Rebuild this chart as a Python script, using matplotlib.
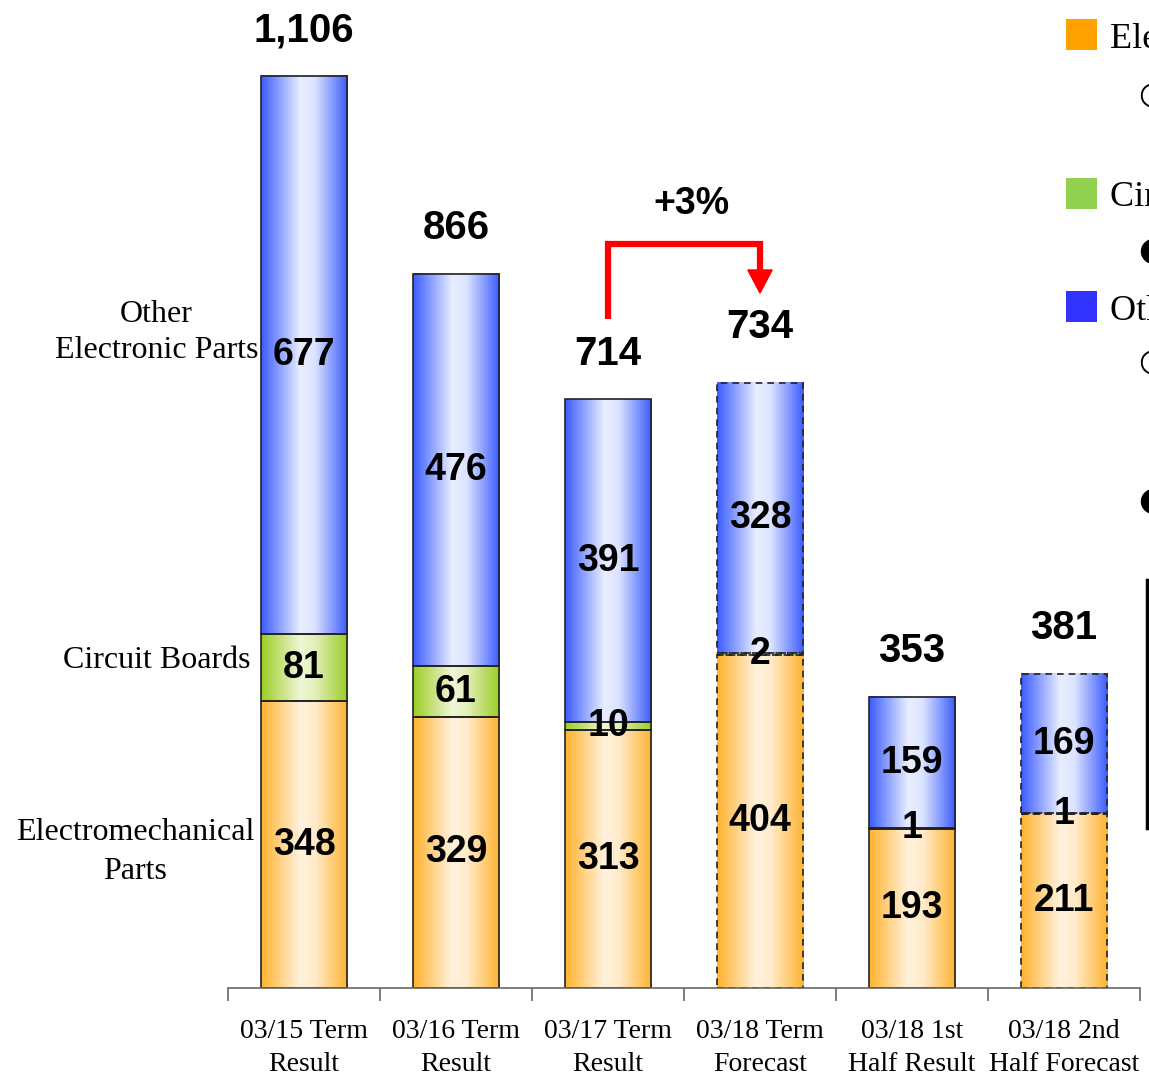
import numpy as np
import matplotlib.pyplot as plt
from matplotlib.colors import LinearSegmentedColormap
from matplotlib.patches import Rectangle, Polygon
from matplotlib.lines import Line2D

categories = ["03/15 Term\nResult", "03/16 Term\nResult", "03/17 Term\nResult",
              "03/18 Term\nForecast", "03/18 1st\nHalf Result", "03/18 2nd\nHalf Forecast"]
electromech = [348, 329, 313, 404, 193, 211]
circuit = [81, 61, 10, 2, 1, 1]
other = [677, 476, 391, 328, 159, 169]
totals = [1106, 866, 714, 734, 353, 381]
forecast = [False, False, False, True, False, True]
growth_label = "+3%"

series_names = ["Electromechanical Parts", "Circuit Boards", "Other Electronic Parts"]
series_colors = ["#FFA200", "#92D050", "#3333FF"]

# horizontal gradients: saturated at the edges, pale in the middle
grad_maps = [
    LinearSegmentedColormap.from_list("orange", [(0, "#FFB22E"), (0.45, "#FFF2DC"), (0.62, "#FFEBCB"), (1, "#FFB22E")]),
    LinearSegmentedColormap.from_list("green", [(0, "#9ACD22"), (0.45, "#F0F6D6"), (0.62, "#E3EFBC"), (1, "#9ACD22")]),
    LinearSegmentedColormap.from_list("blue", [(0, "#3A5BFF"), (0.45, "#E8EEFF"), (0.62, "#DCE4FF"), (1, "#3A5BFF")]),
]

W, H = 1149, 1076
fig = plt.figure(figsize=(W / 100, H / 100), dpi=100)
ax = fig.add_axes([228 / W, 88 / H, 912 / W, 981 / H])

x = np.arange(len(categories))
width = 0.566
grad = np.linspace(0, 1, 256).reshape(1, -1)
num_font = dict(family="Liberation Sans", weight="bold")

for i in x:
    ls = (0, (4, 3)) if forecast[i] else "solid"
    bottom = 0
    for s, vals in enumerate([electromech, circuit, other]):
        v = vals[i]
        ax.imshow(grad, cmap=grad_maps[s], aspect="auto", zorder=1,
                  extent=(i - width / 2, i + width / 2, bottom, bottom + v))
        ax.bar(i, v, width, bottom=bottom, fill=False, edgecolor="#222222",
               linewidth=1.2, linestyle=ls, zorder=2)
        ax.text(i, bottom + v / 2, f"{v:,}", ha="center", va="center",
                fontsize=27, zorder=5, **num_font)
        bottom += v
    lift = 40 if i == 3 else 33
    ax.annotate(f"{totals[i]:,}", (i, totals[i]), xytext=(0, lift), textcoords="offset points",
                ha="center", va="center", fontsize=29, **num_font)

# growth arrow between 03/17 and 03/18 term
top = max(totals[2], totals[3]) + 169
ax.plot([2, 2, 3, 3], [totals[2] + 97, top, top, totals[3] + 130], color="red",
        linewidth=4.5, solid_joinstyle="miter", solid_capstyle="butt", zorder=4)
ax.add_patch(Polygon([(2.92, totals[3] + 137), (3.08, totals[3] + 137), (3, totals[3] + 109)],
                     closed=True, color="red", zorder=4))
ax.text(2.55, top + 48, growth_label, ha="center", va="center", fontsize=27, **num_font)

ax.set_xlim(-0.5, len(categories) - 0.5)
ax.set_ylim(0, 1190)

for s in ["left", "top", "right"]:
    ax.spines[s].set_visible(False)
ax.spines["bottom"].set_color("#666666")
ax.spines["bottom"].set_linewidth(1.2)
ax.set_yticks([])
ax.set_xticks(x)
ax.set_xticklabels(categories, family="Liberation Serif", fontsize=20, linespacing=1.45)
ax.tick_params(axis="x", which="major", length=0, pad=22)
ax.set_xticks(np.arange(-0.5, len(categories)), minor=True)
ax.tick_params(axis="x", which="minor", length=9, color="#666666", width=1.2)

# series names beside the first bar
serif = dict(family="Liberation Serif", fontsize=23, ha="center", va="center", clip_on=False)
ax.text(-0.97, 795, "Other\nElectronic Parts", linespacing=1.3, **serif)
ax.text(-0.97, 397, "Circuit Boards", **serif)
ax.text(-1.11, 165, "Electromechanical\nParts", linespacing=1.45, **serif)

# legend block running off the right edge
for name, color, y in zip(series_names, series_colors, [35, 194, 307]):
    fig.add_artist(Rectangle((1066 / W, 1 - (y + 15) / H), 31 / W, 31 / H,
                             transform=fig.transFigure, facecolor=color, edgecolor="none"))
    fig.text(1110 / W, 1 - y / H, name, family="Liberation Serif", fontsize=26,
             ha="left", va="center_baseline")
for mark, y in zip(["○", "●", "○", "●"], [95, 250, 362, 500]):
    fig.text(1138 / W, 1 - y / H, mark, family="DejaVu Sans", fontsize=24,
             ha="left", va="center")
fig.add_artist(Line2D([1147 / W, 1147 / W], [1 - 580 / H, 1 - 828 / H],
                      transform=fig.transFigure, color="black", linewidth=2.5))

fig.savefig("out.png", dpi=100)
